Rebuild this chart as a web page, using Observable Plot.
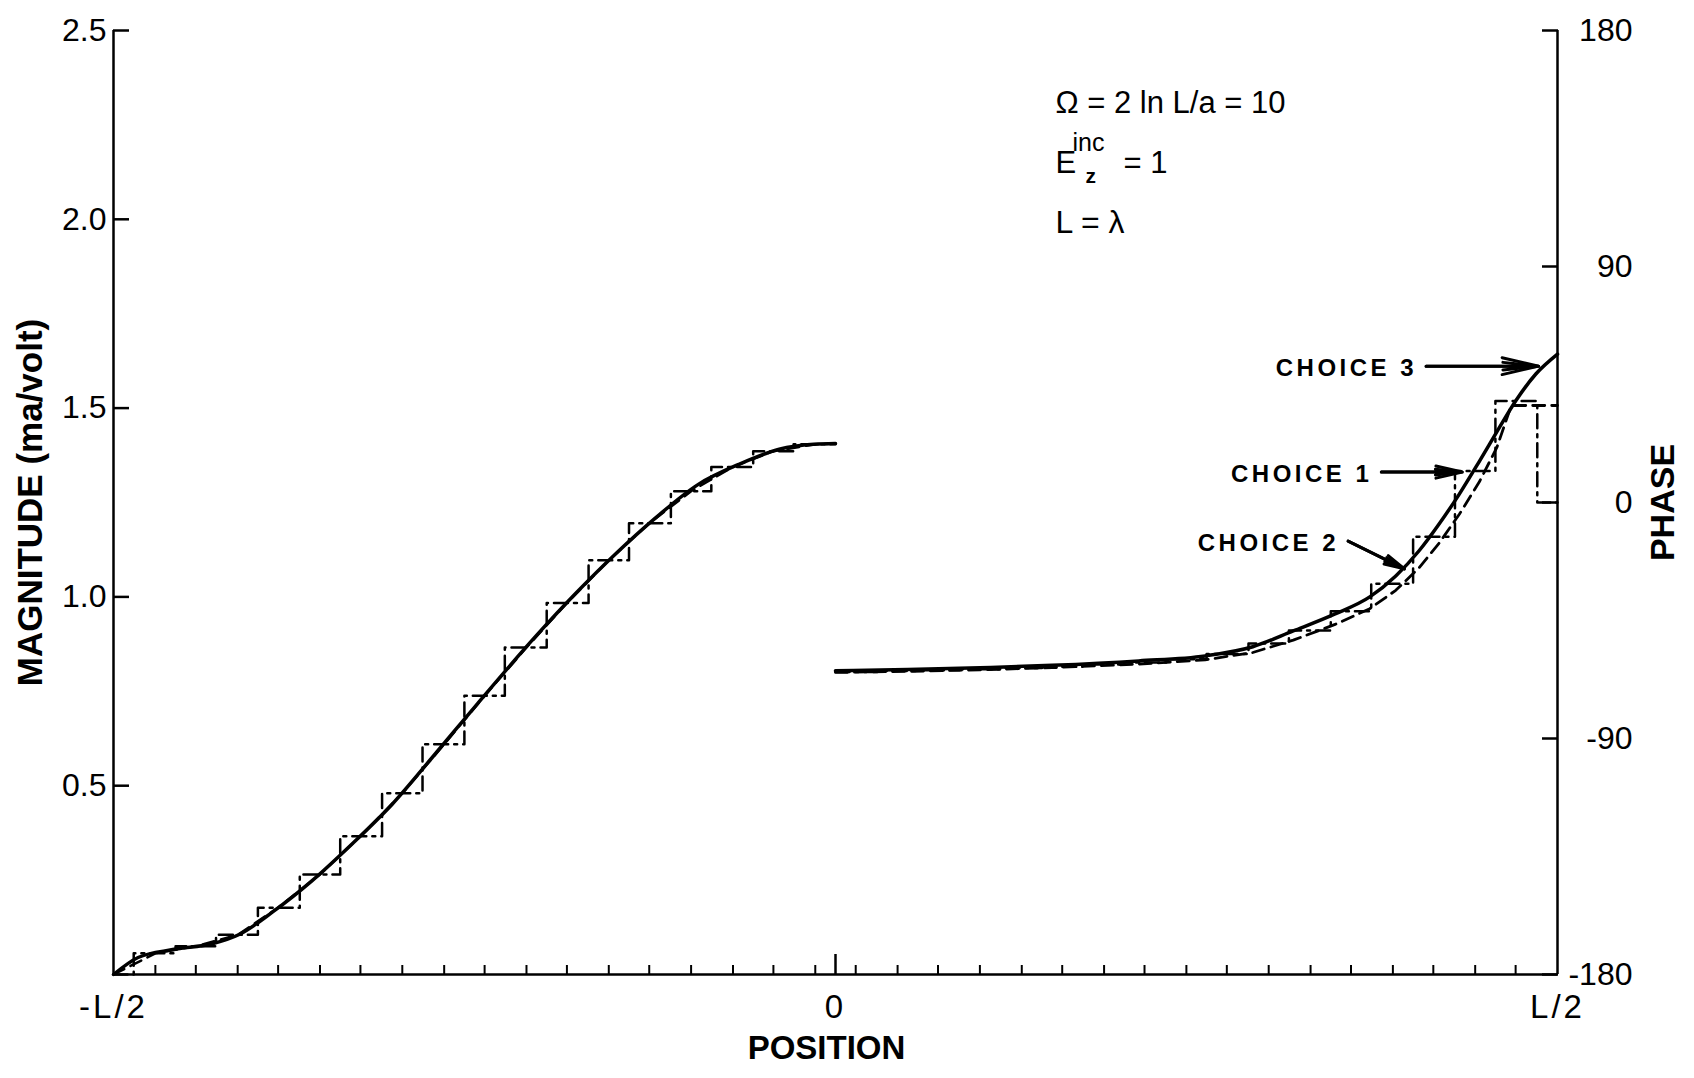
<!DOCTYPE html>
<html>
<head>
<meta charset="utf-8">
<script src="https://cdn.jsdelivr.net/npm/d3@7"></script>
<script src="https://cdn.jsdelivr.net/npm/@observablehq/plot@0.6"></script>
<style>
  html, body { margin: 0; padding: 0; background: #fff; }
  #chart svg { display: block; }
  g[aria-label="x-axis tick label"] text { letter-spacing: 3px; }
  g[aria-description="choice label"] text, text[aria-label="choice label"] { letter-spacing: 3.5px; }
</style>
</head>
<body>
<div id="chart"></div>
<script>
// Position along the wire in units of L (from -L/2 to L/2).
// Left half: current magnitude (ma/volt); right half: current phase (degrees).

// Magnitude, choice 3 (smooth solution)
const magnitudePosition = [-0.5, -0.483, -0.459, -0.431, -0.413, -0.39, -0.362, -0.335, -0.307, -0.279, -0.248, -0.208, -0.18, -0.152, -0.125, -0.095, -0.067, -0.039, -0.015, 0];
const magnitudeChoice3 = [0, 0.045, 0.066, 0.082, 0.106, 0.165, 0.25, 0.345, 0.451, 0.576, 0.717, 0.894, 1.009, 1.115, 1.208, 1.298, 1.351, 1.391, 1.404, 1.406];

// Pulse edges on the left half and the magnitude held on each pulse (choice 1)
const pulseEdgesLeft = [-0.5, -0.486, -0.457, -0.429, -0.4, -0.371, -0.343, -0.314, -0.286, -0.257, -0.229, -0.2, -0.171, -0.143, -0.114, -0.086, -0.057, -0.029, 0];
const magnitudeChoice1 = [0, 0.056, 0.075, 0.105, 0.177, 0.265, 0.366, 0.48, 0.61, 0.738, 0.866, 0.984, 1.097, 1.195, 1.28, 1.344, 1.386, 1.404];

// Magnitude, choice 2, at the match points
const magnitudeChoice2Position = [-0.5, -0.471, -0.443, -0.414, -0.386, -0.357, -0.329, -0.3, -0.271, -0.243, -0.214, -0.186, -0.157, -0.129, -0.1, -0.071, -0.043, -0.014, 0];
const magnitudeChoice2 = [0, 0.056, 0.075, 0.105, 0.177, 0.265, 0.366, 0.48, 0.61, 0.738, 0.866, 0.984, 1.097, 1.195, 1.28, 1.344, 1.386, 1.404, 1.406];

// Phase, choice 3 (smooth solution)
const phasePosition = [0, 0.05, 0.1, 0.15, 0.21, 0.256, 0.289, 0.317, 0.346, 0.37, 0.388, 0.404, 0.418, 0.432, 0.446, 0.46, 0.471, 0.485, 0.5];
const phaseChoice3 = [-64.2, -63.7, -63.0, -62.1, -60.4, -58.5, -55.0, -49.0, -42.5, -36.0, -28.0, -18.5, -8.2, 3.2, 15.8, 28.8, 38.7, 49.0, 56.6];

// Pulse edges on the right half and the phase held on each pulse (choice 1)
const pulseEdgesRight = [0, 0.029, 0.057, 0.086, 0.114, 0.143, 0.171, 0.2, 0.229, 0.257, 0.286, 0.314, 0.343, 0.371, 0.4, 0.429, 0.457, 0.486, 0.5];
const phaseChoice1 = [-64.6, -64.3, -64.0, -63.6, -63.1, -62.6, -61.8, -61.0, -59.8, -57.8, -53.8, -48.8, -41.5, -31.0, -13.1, 12.0, 38.7, 0];

// Phase, choice 2
const phaseChoice2Position = [0, 0.05, 0.1, 0.15, 0.21, 0.256, 0.289, 0.317, 0.346, 0.37, 0.388, 0.404, 0.418, 0.432, 0.446, 0.458, 0.468, 0.5];
const phaseChoice2 = [-64.8, -64.4, -63.8, -63.0, -61.6, -60.0, -57.2, -52.5, -46.5, -40.5, -33.5, -25.0, -15.5, -4.5, 8.0, 21.0, 37.0, 37.0];

// Axis ticks
const positionTicks = [-0.5, 0, 0.5];
const positionTickLabels = ["-L/2", "0", "L/2"];
const matchPointTicks = [-0.471, -0.443, -0.414, -0.386, -0.357, -0.329, -0.3, -0.271, -0.243, -0.214, -0.186, -0.157, -0.129, -0.1, -0.071, -0.043, -0.014,
                         0.014, 0.043, 0.071, 0.1, 0.129, 0.157, 0.186, 0.214, 0.243, 0.271, 0.3, 0.329, 0.357, 0.386, 0.414, 0.443, 0.471];
const magnitudeTicks = [0.5, 1.0, 1.5, 2.0, 2.5];
const phaseTicks = [180, 90, 0, -90, -180];

// Curve labels with their pointers (position, phase)
const choiceLabels = ["CHOICE 3", "CHOICE 1", "CHOICE 2"];
const arrowFromPosition = [0.409, 0.378, 0.355];
const arrowFromPhase = [52, 11.6, -14.7];
const arrowToPosition = [0.487, 0.434, 0.394];
const arrowToPhase = [52, 11.6, -25.3];

// The phase axis (-180..180) shares the frame with the magnitude axis (0..2.5)
const MAG_MAX = 2.5;
const phaseToY = p => (p + 180) / 360 * MAG_MAX;
const yToPhase = v => String(Math.round(v / MAG_MAX * 360 - 180));

const zip = (xs, ys) => xs.map((x, i) => ({x, y: ys[i]}));
// Piecewise-constant series: one level per interval between consecutive edges
const steps = (edges, levels) => edges.map((x, i) => ({x, y: levels[Math.min(i, levels.length - 1)]}));

const magSolid = zip(magnitudePosition, magnitudeChoice3);
const magSteps = steps(pulseEdgesLeft, magnitudeChoice1);
const magDashed = zip(magnitudeChoice2Position, magnitudeChoice2);
const phaseSolid = zip(phasePosition, phaseChoice3).map(d => ({x: d.x, y: phaseToY(d.y)}));
const phaseSteps = steps(pulseEdgesRight, phaseChoice1).map(d => ({x: d.x, y: phaseToY(d.y)}));
const phaseDashed = zip(phaseChoice2Position, phaseChoice2).map(d => ({x: d.x, y: phaseToY(d.y)}));
const pointers = choiceLabels.map((label, i) => ({
  label,
  x1: arrowFromPosition[i], y1: phaseToY(arrowFromPhase[i]),
  x2: arrowToPosition[i], y2: phaseToY(arrowToPhase[i])
}));
const positionLabel = new Map(positionTicks.map((v, i) => [v, positionTickLabels[i]]));
const phaseTickY = phaseTicks.map(phaseToY);

const FONT = "Liberation Sans, Arial, Helvetica, sans-serif";
const DASH_DOT = "14,6,3,6";
const DASHED = "12,7";
const AXIS_WIDTH = 2.5;
const TICK = 16;

const note = (text, dx, dy, fontSize, fontWeight = "normal") => Plot.text([text], {
  text: d => d, frameAnchor: "top-left", dx, dy, fontSize, fontWeight,
  textAnchor: "start", lineAnchor: "bottom"
});

const chart = Plot.plot({
  width: 1694,
  height: 1078,
  marginLeft: 113,
  marginRight: 137,
  marginTop: 30,
  marginBottom: 104,
  x: {domain: [-0.5, 0.5]},
  y: {domain: [0, MAG_MAX]},
  style: {fontFamily: FONT, background: "#fff", color: "#000"},
  marks: [
    // frame lines: position axis and the two vertical axes
    Plot.ruleY([0], {strokeWidth: AXIS_WIDTH}),
    Plot.ruleX([-0.5, 0.5], {strokeWidth: AXIS_WIDTH}),

    // position axis: match-point ticks, center tick, end labels
    Plot.axisX(matchPointTicks, {tickSize: -9, tickFormat: () => "", strokeWidth: 2, label: null}),
    Plot.axisX([0], {tickSize: -20, tickFormat: () => "", strokeWidth: AXIS_WIDTH, label: null}),
    Plot.axisX(positionTicks, {tickSize: 0, tickPadding: 20, fontSize: 33, tickFormat: d => positionLabel.get(d), label: null}),

    // magnitude axis (left): ticks drawn inside the frame, labels outside
    Plot.axisY(magnitudeTicks, {anchor: "left", tickSize: TICK, dx: TICK, tickFormat: () => "", strokeWidth: AXIS_WIDTH, label: null}),
    Plot.axisY(magnitudeTicks, {anchor: "left", tickSize: 0, tickPadding: 7, fontSize: 32,
      tickFormat: d => d.toFixed(1), label: null}),

    // phase axis (right): ticks drawn inside the frame, labels right-aligned
    Plot.axisY(phaseTickY, {anchor: "right", tickSize: TICK, dx: -TICK, tickFormat: () => "", strokeWidth: AXIS_WIDTH, label: null}),
    Plot.axisY(phaseTickY, {anchor: "right", tickSize: 0, tickPadding: 75, textAnchor: "end",
      fontSize: 32, tickFormat: yToPhase, label: null}),

    // axis titles
    Plot.text(["MAGNITUDE (ma/volt)"], {text: d => d, frameAnchor: "left", dx: -83, rotate: -90,
      textAnchor: "middle", fontSize: 35, fontWeight: "bold"}),
    Plot.text(["PHASE"], {text: d => d, frameAnchor: "right", dx: 106, rotate: -90,
      textAnchor: "middle", fontSize: 34, fontWeight: "bold"}),
    Plot.text(["POSITION"], {text: d => d, frameAnchor: "bottom", dx: -9, dy: 84,
      textAnchor: "middle", fontSize: 33, fontWeight: "bold"}),

    // magnitude curves
    Plot.line(magSteps, {x: "x", y: "y", curve: "step-after", stroke: "#000", strokeWidth: 2.5, strokeDasharray: DASH_DOT}),
    Plot.line(magDashed, {x: "x", y: "y", stroke: "#000", strokeWidth: 2.5, strokeDasharray: DASHED}),
    Plot.line(magSolid, {x: "x", y: "y", curve: "monotone-x", stroke: "#000", strokeWidth: 3.5}),

    // phase curves
    Plot.line(phaseSteps, {x: "x", y: "y", curve: "step-after", stroke: "#000", strokeWidth: 2.5, strokeDasharray: DASH_DOT}),
    Plot.line(phaseDashed, {x: "x", y: "y", stroke: "#000", strokeWidth: 2.8, strokeDasharray: DASHED}),
    Plot.line(phaseSolid, {x: "x", y: "y", curve: "monotone-x", stroke: "#000", strokeWidth: 3.5}),

    // curve labels and pointers (a narrow second head fills the arrowhead)
    Plot.arrow(pointers, {x1: "x1", y1: "y1", x2: "x2", y2: "y2", stroke: "#000", strokeWidth: 3,
      headLength: 20, headAngle: 26}),
    Plot.arrow(pointers, {x1: "x1", y1: "y1", x2: "x2", y2: "y2", stroke: "#000", strokeWidth: 3,
      headLength: 18, headAngle: 12}),
    Plot.text(pointers, {x: "x1", y: "y1", text: "label", textAnchor: "end", dx: -9, dy: 2,
      fontSize: 24, fontWeight: "bold",
      ariaLabel: () => "choice label", ariaDescription: "choice label"}),

    // parameters of the computation
    note("\u03A9 = 2 ln L/a = 10", 942, 82, 31),
    note("E", 942, 142, 31),
    note("inc", 959, 120, 25),
    note("z", 972, 152, 21, "bold"),
    note("= 1", 1010, 142, 31),
    note("L = \u03BB", 942, 202, 32)
  ]
});

document.getElementById("chart").appendChild(chart);
</script>
</body>
</html>
